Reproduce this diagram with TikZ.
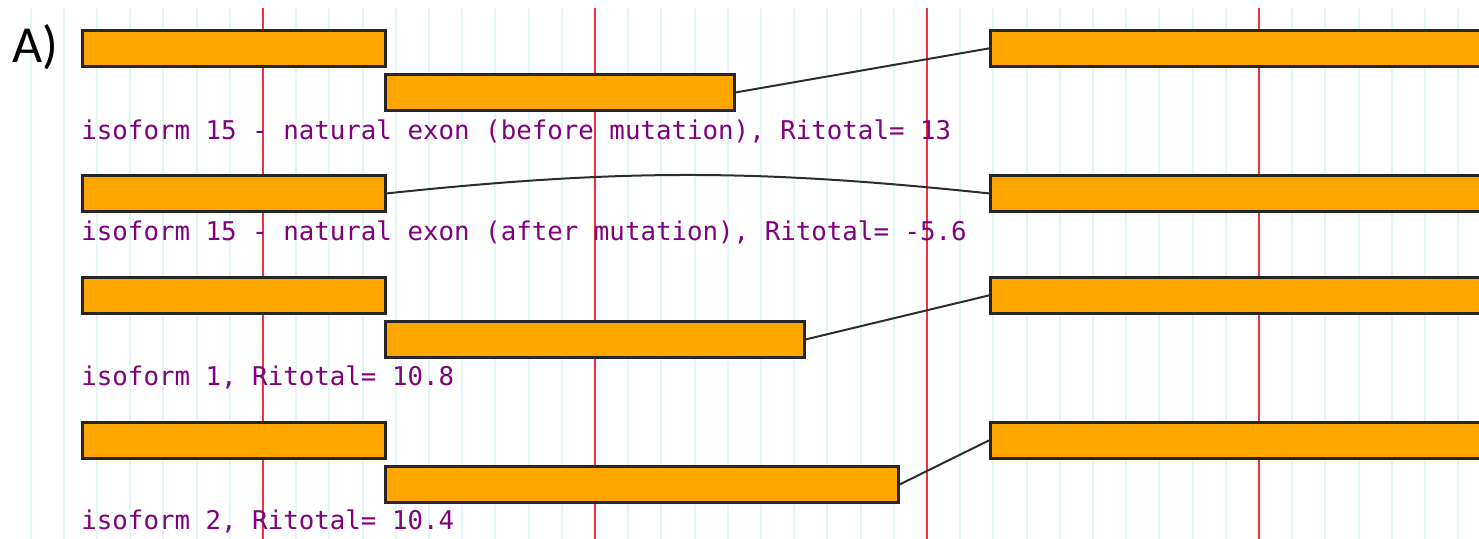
\documentclass[tikz,border=0pt]{standalone}
\usepackage{fontspec}
\newfontfamily\monofont{DejaVu Sans Mono}
\newfontfamily\labelfont{Carlito}
\usepackage{tikz}
\definecolor{exoncol}{RGB}{255,165,0}
\definecolor{gridcol}{RGB}{226,246,248}
\definecolor{markcol}{RGB}{236,50,60}
\definecolor{textcol}{RGB}{128,0,128}
\definecolor{introncol}{RGB}{45,45,45}
\tikzset{
	exon/.style={draw=black!85, fill=exoncol, line width=1.4pt, rectangle, inner sep=0pt, minimum height=18pt, anchor=north west},
	intron/.style={draw=introncol, line width=1pt},
	caption/.style={text=textcol, font=\monofont\fontsize{12.9}{14}\selectfont, inner sep=0pt, anchor=base west}
}

\begin{document}
\begin{tikzpicture}[x=0.5pt, y=-0.5pt]
		\clip (0,0) rectangle (1479,539);
		\fill[white] (0,0) rectangle (1479,539);
		
		\foreach \i in {0,...,43}
			\draw[gridcol, line width=1pt] (30.6+33.2*\i,8) -- (30.6+33.2*\i,539);
		\foreach \i in {0,...,3}
			\draw[markcol, line width=1pt] (263+332*\i,8) -- (263+332*\i,539);
		
		\node[anchor=base west, inner sep=0pt, font=\labelfont\fontsize{26}{30}\selectfont] (lbl) at (12,63) {A)};
		
		\node[exon, minimum width=151.5pt] (a1) at (81,29) {};
		\node[exon, minimum width=174.5pt] (b1) at (384,73) {};
		\node[exon, minimum width=300pt] (c1) at (989,29) {};
		\node[caption] (t1) at (81,140) {isoform 15 - natural exon (before mutation), Ritotal= 13};
		
		\node[exon, minimum width=151.5pt] (a2) at (81,174) {};
		\node[exon, minimum width=300pt] (c2) at (989,174) {};
		\node[caption] (t2) at (81,241) {isoform 15 - natural exon (after mutation), Ritotal= -5.6};
		
		\node[exon, minimum width=151.5pt] (a3) at (81,276) {};
		\node[exon, minimum width=209.5pt] (b3) at (384,320) {};
		\node[exon, minimum width=300pt] (c3) at (989,276) {};
		\node[caption] (t3) at (81,386) {isoform 1, Ritotal= 10.8};
		
		\node[exon, minimum width=151.5pt] (a4) at (81,421) {};
		\node[exon, minimum width=256.5pt] (b4) at (384,465) {};
		\node[exon, minimum width=300pt] (c4) at (989,421) {};
		\node[caption] (t4) at (81,530) {isoform 2, Ritotal= 10.4};
		
		\draw[intron] (b1.east) -- (c1.west);
		\draw[intron] (a2.east) to[bend left=6] (c2.west);
		\draw[intron] (b3.east) -- (c3.west);
		\draw[intron] (b4.east) -- (c4.west);
		
		\end{tikzpicture}
\end{document}
